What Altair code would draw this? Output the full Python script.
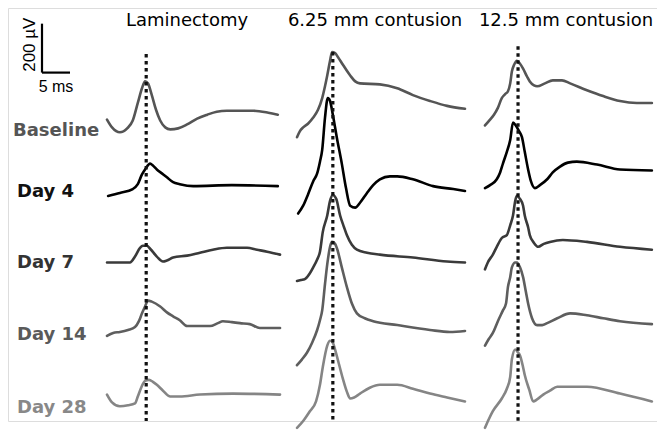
import altair as alt
import pandas as pd

# ---------------- data (ms, µV) ----------------
COLUMNS = ["Laminectomy", "6.25 mm contusion", "12.5 mm contusion"]
ROWS = ["Baseline", "Day 4", "Day 7", "Day 14", "Day 28"]

# Laminectomy
LAM_BASE_T = [0, 0.9, 2.3, 3.6, 4.6, 5.5, 6.25, 6.8, 7.3, 8.0, 8.75, 9.5, 10.4, 11.3, 12.7, 14.3, 16.1, 17.9, 19.6, 21.4, 26.1, 28.8, 30.5]
LAM_BASE_V = [-8, -40, -60, -44, -12, 60, 120, 148, 140, 92, 32, -12, -40, -48, -44, -28, -4, 12, 24, 28, 28, 20, 12]
LAM_D4_T = [0.2, 2.3, 4.6, 5.5, 6.25, 6.8, 7.7, 8.2, 8.9, 9.8, 10.7, 11.8, 13.0, 15.4, 22.3, 30.5]
LAM_D4_V = [-40, -28, -12, 8, 48, 68, 92, 84, 68, 52, 36, 16, 8, 0, 4, 0]
LAM_D7_T = [0, 4.1, 5.0, 5.9, 6.4, 7.1, 7.7, 8.9, 10.0, 10.7, 11.8, 14.3, 16.6, 18.9, 21.4, 25.0, 26.8, 28.6, 30.9]
LAM_D7_V = [-12, -12, 12, 48, 56, 56, 44, 12, -8, -4, 8, 16, 28, 40, 48, 48, 40, 32, 20]
LAM_D14_T = [0, 1.1, 2.3, 3.75, 5.0, 5.7, 6.25, 6.8, 7.3, 8.0, 9.5, 10.7, 11.8, 13.0, 14.3, 18.4, 19.8, 20.7, 22.3, 23.75, 25.5, 27.3, 30.9]
LAM_D14_V = [-32, -20, -16, -8, 4, 28, 60, 88, 112, 108, 88, 64, 48, 32, 8, 8, 20, 28, 24, 20, 16, 0, 0]
LAM_D28_T = [0, 0.9, 2.3, 3.75, 5.0, 5.5, 6.1, 6.8, 7.5, 8.2, 8.9, 10.0, 11.3, 13.0, 16.6, 22.5, 30.9]
LAM_D28_V = [8, -24, -40, -36, -28, 0, 36, 64, 68, 60, 48, 24, 0, 0, 8, 12, 8]

# 6.25 mm contusion
C6_BASE_T = [0, 0.5, 1.1, 2.0, 2.9, 3.75, 4.5, 5.0, 5.4, 5.9, 6.25, 6.8, 7.3, 8.2, 9.5, 10.4, 11.25, 14.8, 17.9, 20.7, 23.75, 26.8, 30.0]
C6_BASE_V = [-80, -56, -40, -24, 0, 32, 80, 128, 172, 232, 268, 264, 248, 216, 172, 148, 140, 136, 120, 92, 68, 48, 36]
C6_D4_T = [0.2, 1.1, 2.0, 2.9, 3.6, 4.1, 4.5, 5.0, 5.5, 5.9, 6.4, 7.1, 8.0, 8.75, 9.5, 10.4, 11.25, 12.5, 13.6, 14.8, 16.6, 17.9, 20.7, 24.3, 27.9, 30.0]
C6_D4_V = [-112, -80, -32, 20, 52, 100, 148, 280, 360, 348, 292, 200, 92, -8, -80, -88, -68, -28, 4, 28, 40, 40, 28, 0, -12, -20]
C6_D7_T = [0, 0.7, 1.4, 2.3, 2.9, 3.6, 4.1, 4.6, 5.4, 5.9, 6.4, 7.0, 7.7, 8.4, 8.9, 9.8, 10.7, 12.5, 14.8, 20.7, 26.8, 30.0]
C6_D7_V = [-88, -84, -80, -56, -32, 0, 32, 112, 180, 240, 264, 248, 180, 132, 100, 60, 40, 28, 20, 8, -8, -12]
C6_D14_T = [0, 0.9, 1.8, 2.7, 3.6, 4.1, 4.5, 5.0, 5.4, 5.9, 6.25, 6.8, 7.1, 8.0, 8.9, 9.8, 10.7, 12.1, 13.6, 17.9, 23.75, 27.3, 30.0]
C6_D14_V = [-152, -128, -100, -60, -8, 32, 72, 180, 260, 332, 352, 344, 328, 248, 168, 100, 60, 40, 28, 12, -8, -16, -12]
C6_D28_T = [0, 1.1, 2.3, 3.4, 4.1, 4.6, 5.4, 5.9, 6.4, 6.8, 7.5, 8.2, 8.9, 9.5, 10.2, 11.25, 13.0, 14.8, 17.9, 20.7, 23.75, 26.8, 30.0]
C6_D28_V = [-128, -100, -60, -20, 48, 120, 208, 228, 220, 192, 132, 72, 20, -8, -4, 12, 36, 48, 48, 32, 12, -4, -20]

# 12.5 mm contusion
C12_BASE_T = [0, 0.9, 1.6, 2.3, 3.0, 3.6, 4.1, 4.5, 4.8, 5.2, 5.7, 6.25, 6.8, 7.5, 8.0, 8.75, 9.3, 10.7, 12.1, 13.75, 15.2, 18.2, 21.1, 24.1, 27.1, 29.8]
C12_BASE_V = [-32, -8, 12, 40, 80, 96, 108, 140, 188, 216, 232, 220, 200, 168, 148, 132, 128, 140, 152, 152, 140, 112, 88, 68, 60, 60]
C12_D4_T = [0, 0.9, 2.1, 2.7, 3.2, 3.9, 4.5, 5.0, 5.5, 6.1, 6.6, 7.1, 7.7, 8.2, 8.9, 9.8, 11.1, 12.1, 13.4, 14.8, 16.4, 20.0, 24.1, 29.8]
C12_D4_V = [-8, 4, 28, 56, 92, 140, 188, 260, 248, 224, 200, 140, 68, 20, -8, 4, 28, 56, 80, 96, 100, 88, 68, 64]
C12_D7_T = [0, 0.5, 1.4, 2.1, 3.0, 3.9, 4.5, 5.0, 5.4, 5.7, 6.25, 6.8, 7.1, 7.7, 8.0, 8.75, 9.5, 10.5, 11.6, 13.9, 18.2, 24.1, 29.8]
C12_D7_V = [-40, -12, 20, 52, 88, 100, 140, 180, 240, 260, 248, 220, 180, 132, 100, 68, 52, 64, 72, 80, 72, 52, 40]
C12_D14_T = [0, 0.7, 1.4, 2.3, 3.2, 3.75, 4.1, 4.5, 4.8, 5.4, 5.7, 6.25, 6.8, 7.3, 7.7, 8.4, 9.3, 10.2, 11.1, 12.9, 15.2, 18.2, 21.1, 24.1, 29.8]
C12_D14_V = [-72, -44, -20, 28, 72, 100, 168, 208, 248, 268, 268, 248, 208, 148, 100, 40, 12, 12, 20, 40, 60, 52, 40, 28, 16]
C12_D28_T = [0, 0.7, 1.4, 3.0, 3.9, 4.5, 4.8, 5.4, 5.9, 6.25, 6.8, 7.1, 7.9, 8.6, 9.3, 10.4, 11.6, 12.9, 18.2, 24.1, 29.8]
C12_D28_V = [-128, -92, -60, -8, 32, 80, 152, 192, 180, 168, 120, 88, 28, -20, -12, 8, 24, 40, 40, 12, -20]

# latency markers (ms) and their top (µV, relative to the Baseline row)
MARKER_MS = [7.0, 6.4, 5.9]
MARKER_TOP_UV = [260, 268, 292]

SCALE_BAR_UV = 200
SCALE_BAR_MS = 5

TRACES = {
    (0, 0): (LAM_BASE_T, LAM_BASE_V), (0, 1): (LAM_D4_T, LAM_D4_V), (0, 2): (LAM_D7_T, LAM_D7_V),
    (0, 3): (LAM_D14_T, LAM_D14_V), (0, 4): (LAM_D28_T, LAM_D28_V),
    (1, 0): (C6_BASE_T, C6_BASE_V), (1, 1): (C6_D4_T, C6_D4_V), (1, 2): (C6_D7_T, C6_D7_V),
    (1, 3): (C6_D14_T, C6_D14_V), (1, 4): (C6_D28_T, C6_D28_V),
    (2, 0): (C12_BASE_T, C12_BASE_V), (2, 1): (C12_D4_T, C12_D4_V), (2, 2): (C12_D7_T, C12_D7_V),
    (2, 3): (C12_D14_T, C12_D14_V), (2, 4): (C12_D28_T, C12_D28_V),
}

# ---------------- layout & style ----------------
PX_PER_MS = 5.6
PX_PER_UV = 50 / 200
COL_X0 = [107, 297, 485]
ROW_Y0 = [120, 190, 265, 335, 405]
ROW_COLORS = ["#555555", "#000000", "#3a3a3a", "#5e5e5e", "#858585"]
LABEL_COLORS = ["#555555", "#111111", "#333333", "#5a5a5a", "#888888"]
LABEL_X = [13, 17, 17, 17, 17]
LABEL_Y = [139, 201, 274, 347, 422]
TITLE_X = [187, 375, 566]
TITLE_Y = 26
BAR_X0, BAR_Y0 = 42, 74
FONT = "DejaVu Sans"
BAR_FONT = "Liberation Sans"
W, H = 649, 422

def px(col, t):
    return COL_X0[col] + t * PX_PER_MS

def py(row, v):
    return ROW_Y0[row] - v * PX_PER_UV

rows = []
for (c, r), (ts, vs) in TRACES.items():
    for i, (t, v) in enumerate(zip(ts, vs)):
        rows.append({"trace": f"{c}-{r}", "i": i, "x": px(c, t), "y": py(r, v), "color": ROW_COLORS[r]})
traces = pd.DataFrame(rows)

markers = pd.DataFrame({
    "x": [px(c, MARKER_MS[c]) for c in range(3)],
    "y": [py(0, MARKER_TOP_UV[c]) for c in range(3)],
    "y2": [8 + H] * 3,
})

bar = pd.DataFrame({
    "x": [BAR_X0, BAR_X0],
    "y": [BAR_Y0 - SCALE_BAR_UV * PX_PER_UV, BAR_Y0],
    "x2": [BAR_X0, BAR_X0 + SCALE_BAR_MS * PX_PER_MS],
    "y2": [BAR_Y0, BAR_Y0],
})

xs = alt.Scale(domain=[8, 8 + W], nice=False, zero=False)
ys = alt.Scale(domain=[8, 8 + H], nice=False, zero=False, reverse=True)
X = lambda f: alt.X(f, type="quantitative", scale=xs, axis=None)
Y = lambda f: alt.Y(f, type="quantitative", scale=ys, axis=None)

lines = alt.Chart(traces).mark_line(strokeWidth=2.6, strokeJoin="round", strokeCap="round",
                                     interpolate="monotone").encode(
    x=X("x"), y=Y("y"), detail="trace:N", order="i:Q",
    color=alt.Color("color:N", scale=None),
)

dots = alt.Chart(markers).mark_rule(strokeWidth=3.2, strokeDash=[3.5, 3.5], color="#111111").encode(
    x=X("x"), y=Y("y"), y2="y2"
)

scalebar = alt.Chart(bar).mark_rule(strokeWidth=2.2, color="#000000").encode(
    x=X("x"), y=Y("y"), x2="x2", y2="y2"
)

bar_text_v = pd.DataFrame({"x": [BAR_X0 - 7], "y": [BAR_Y0 - 28.5], "label": [f"{SCALE_BAR_UV} µV"]})
bar_text_h = pd.DataFrame({"x": [BAR_X0 + 14], "y": [BAR_Y0 + 20], "label": [f"{SCALE_BAR_MS} ms"]})
bar_v = alt.Chart(bar_text_v).mark_text(font=BAR_FONT, fontSize=17, angle=270, align="center",
                                        baseline="alphabetic", color="#000000").encode(
    x=X("x"), y=Y("y"), text="label:N")
bar_h = alt.Chart(bar_text_h).mark_text(font=BAR_FONT, fontSize=16, align="center",
                                        baseline="alphabetic", color="#000000").encode(
    x=X("x"), y=Y("y"), text="label:N")

titles = pd.DataFrame({"x": TITLE_X, "y": [TITLE_Y] * 3, "label": COLUMNS})
title_text = alt.Chart(titles).mark_text(font=FONT, fontSize=18, align="center", baseline="alphabetic",
                                         color="#000000").encode(x=X("x"), y=Y("y"), text="label:N")

labels = pd.DataFrame({"x": LABEL_X, "y": LABEL_Y, "label": ROWS, "color": LABEL_COLORS})
label_text = alt.Chart(labels).mark_text(font=FONT, fontSize=18, fontWeight="bold", align="left",
                                         baseline="alphabetic").encode(
    x=X("x"), y=Y("y"), text="label:N", color=alt.Color("color:N", scale=None))

chart = alt.layer(lines, dots, scalebar, bar_v, bar_h, title_text, label_text).properties(
    width=W, height=H, padding=0,
    autosize=alt.AutoSizeParams(type="fit", contains="padding"),
).configure_view(stroke=None).configure(background="white")

chart.save("out.html", embed_options={"renderer": "svg", "actions": False})
